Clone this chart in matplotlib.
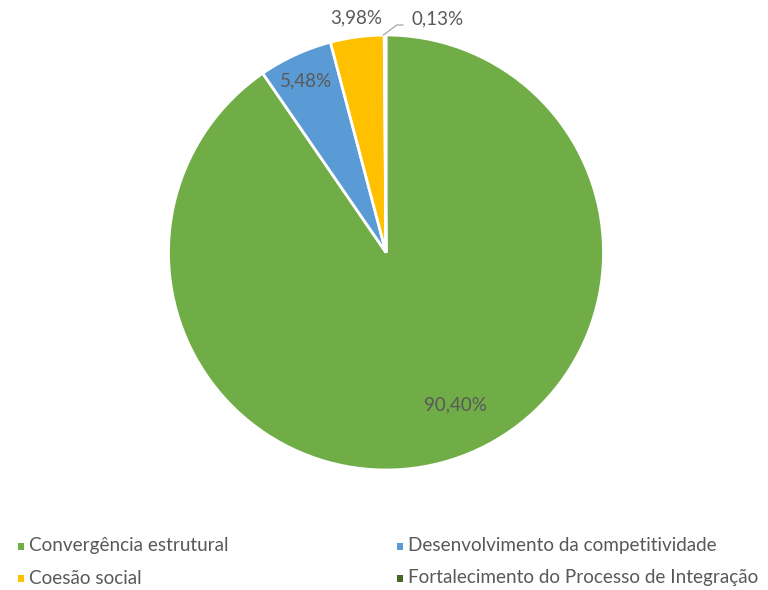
import matplotlib
matplotlib.use("Agg")
import matplotlib.pyplot as plt
from matplotlib.patches import Rectangle
import numpy as np

categories = ["Convergência estrutural", "Desenvolvimento da competitividade",
              "Coesão social", "Fortalecimento do Processo de Integração"]
values = [90.40, 5.48, 3.98, 0.13]
labels = ["90,40%", "5,48%", "3,98%", "0,13%"]
colors = ["#70AD47", "#5B9BD5", "#FFC000", "#43682B"]

plt.rcParams['font.family'] = ['Lato', 'DejaVu Sans']
txt_color = "#595959"

W, H = 768, 590
fig = plt.figure(figsize=(W / 100, H / 100), dpi=100)
ax = fig.add_axes([0.2194, 0.2034, 0.5664, 0.7373])
wedges, _ = ax.pie(values, colors=colors, startangle=90, counterclock=False,
                   wedgeprops=dict(edgecolor="white", linewidth=2))
ax.set_xlim(-1, 1)
ax.set_ylim(-1, 1)
ax.set_aspect("equal")
ax.axis("off")

# label layout (positions in pie units)
label_pos = [(0.318, -0.70), (-0.37, 0.79), (-0.135, 1.078), (0.235, 1.074)]
for lab, (x, y) in zip(labels, label_pos):
    ax.text(x, y, lab, ha="center", va="center", fontsize=13.5, color=txt_color, clip_on=False)

# leader line for the tiny slice
ax.plot([-0.012, 0.05, 0.078], [1.0, 1.046, 1.046], color="#A6A6A6", lw=0.9, clip_on=False)

# legend (two columns, laid out in pixels)
leg_x = [18, 397]
leg_y = [546, 578]
slots = [(0, 0), (1, 0), (0, 1), (1, 1)]
for cat, col, (ci, ri) in zip(categories, colors, slots):
    x, y = leg_x[ci], leg_y[ri]
    fig.add_artist(Rectangle(((x) / W, 1 - (y + 3.5) / H), 6 / W, 7 / H,
                             transform=fig.transFigure, facecolor=col, edgecolor="none"))
    fig.text((x + 11) / W, 1 - y / H, cat, ha="left", va="center",
             fontsize=13.6, color=txt_color)

fig.savefig("out.png", dpi=100)
